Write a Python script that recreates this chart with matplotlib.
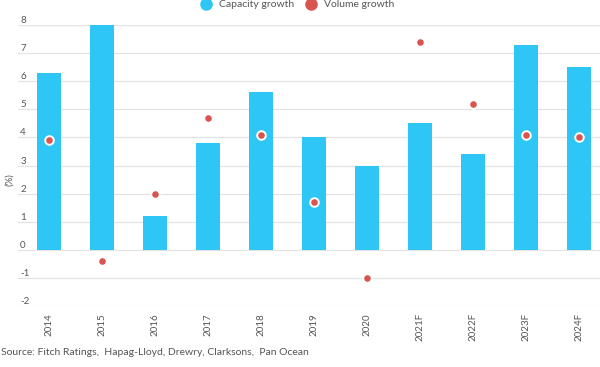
import matplotlib
matplotlib.use("Agg")
import matplotlib.pyplot as plt
from matplotlib.lines import Line2D

categories = ["2014", "2015", "2016", "2017", "2018", "2019", "2020",
              "2021F", "2022F", "2023F", "2024F"]
capacity_growth = [6.3, 8.0, 1.2, 3.8, 5.6, 4.0, 3.0, 4.5, 3.4, 7.3, 6.5]
volume_growth = [3.9, -0.4, 2.0, 4.7, 4.1, 1.7, -1.0, 7.4, 5.2, 4.1, 4.0]
y_ticks = [-2, -1, 0, 1, 2, 3, 4, 5, 6, 7, 8]

BLUE = "#2ec6f5"
RED = "#d9534f"
TXT = "#555555"

plt.rcParams['font.family'] = ['Lato', 'DejaVu Sans']

fig = plt.figure(figsize=(6.0, 3.67), dpi=100)
ax = fig.add_axes([0.03, 0.166, 0.97, 0.766])

x = list(range(len(categories)))
ax.bar(x, capacity_growth, width=0.45, color=BLUE, zorder=2)
ax.scatter(x, volume_growth, s=38, color=RED, edgecolors="white",
           linewidths=1.4, zorder=3)

ax.set_xlim(-0.58, 10.4)
ax.set_ylim(-2, 8)
ax.set_yticks(y_ticks)
ax.set_yticklabels([str(v) for v in y_ticks])
ax.grid(axis="y", color="#e3e3e3", linewidth=0.9, zorder=0)
ax.set_axisbelow(True)
for s in ax.spines.values():
    s.set_visible(False)

ax.tick_params(axis="y", length=0, pad=-1.5, labelsize=7, labelcolor=TXT)
for lbl in ax.get_yticklabels():
    lbl.set_horizontalalignment("left")
    lbl.set_verticalalignment("bottom")

ax.set_xticks(x)
ax.set_xticklabels(categories, rotation=90, fontsize=7, color=TXT)
ax.tick_params(axis="x", length=0, pad=5)

fig.text(0.008, 0.51, "(%)", rotation=90, fontsize=7, color=TXT,
         ha="left", va="center")

fig.text(0.002, 0.04, "Source: Fitch Ratings,  Hapag-Lloyd, Drewry, Clarksons,  Pan Ocean",
         fontsize=7.5, color=TXT, ha="left", va="center")

handles = [
    Line2D([], [], marker="o", linestyle="none", markersize=8,
           markerfacecolor=BLUE, markeredgecolor=BLUE, label="Capacity growth"),
    Line2D([], [], marker="o", linestyle="none", markersize=8,
           markerfacecolor=RED, markeredgecolor=RED, label="Volume growth"),
]
fig.legend(handles=handles, loc="center", bbox_to_anchor=(0.495, 0.987),
           ncol=2, frameon=False, fontsize=7.5, labelcolor=TXT,
           handletextpad=0.7, columnspacing=1.0, handlelength=1.2)

fig.savefig("out.png", dpi=100)
